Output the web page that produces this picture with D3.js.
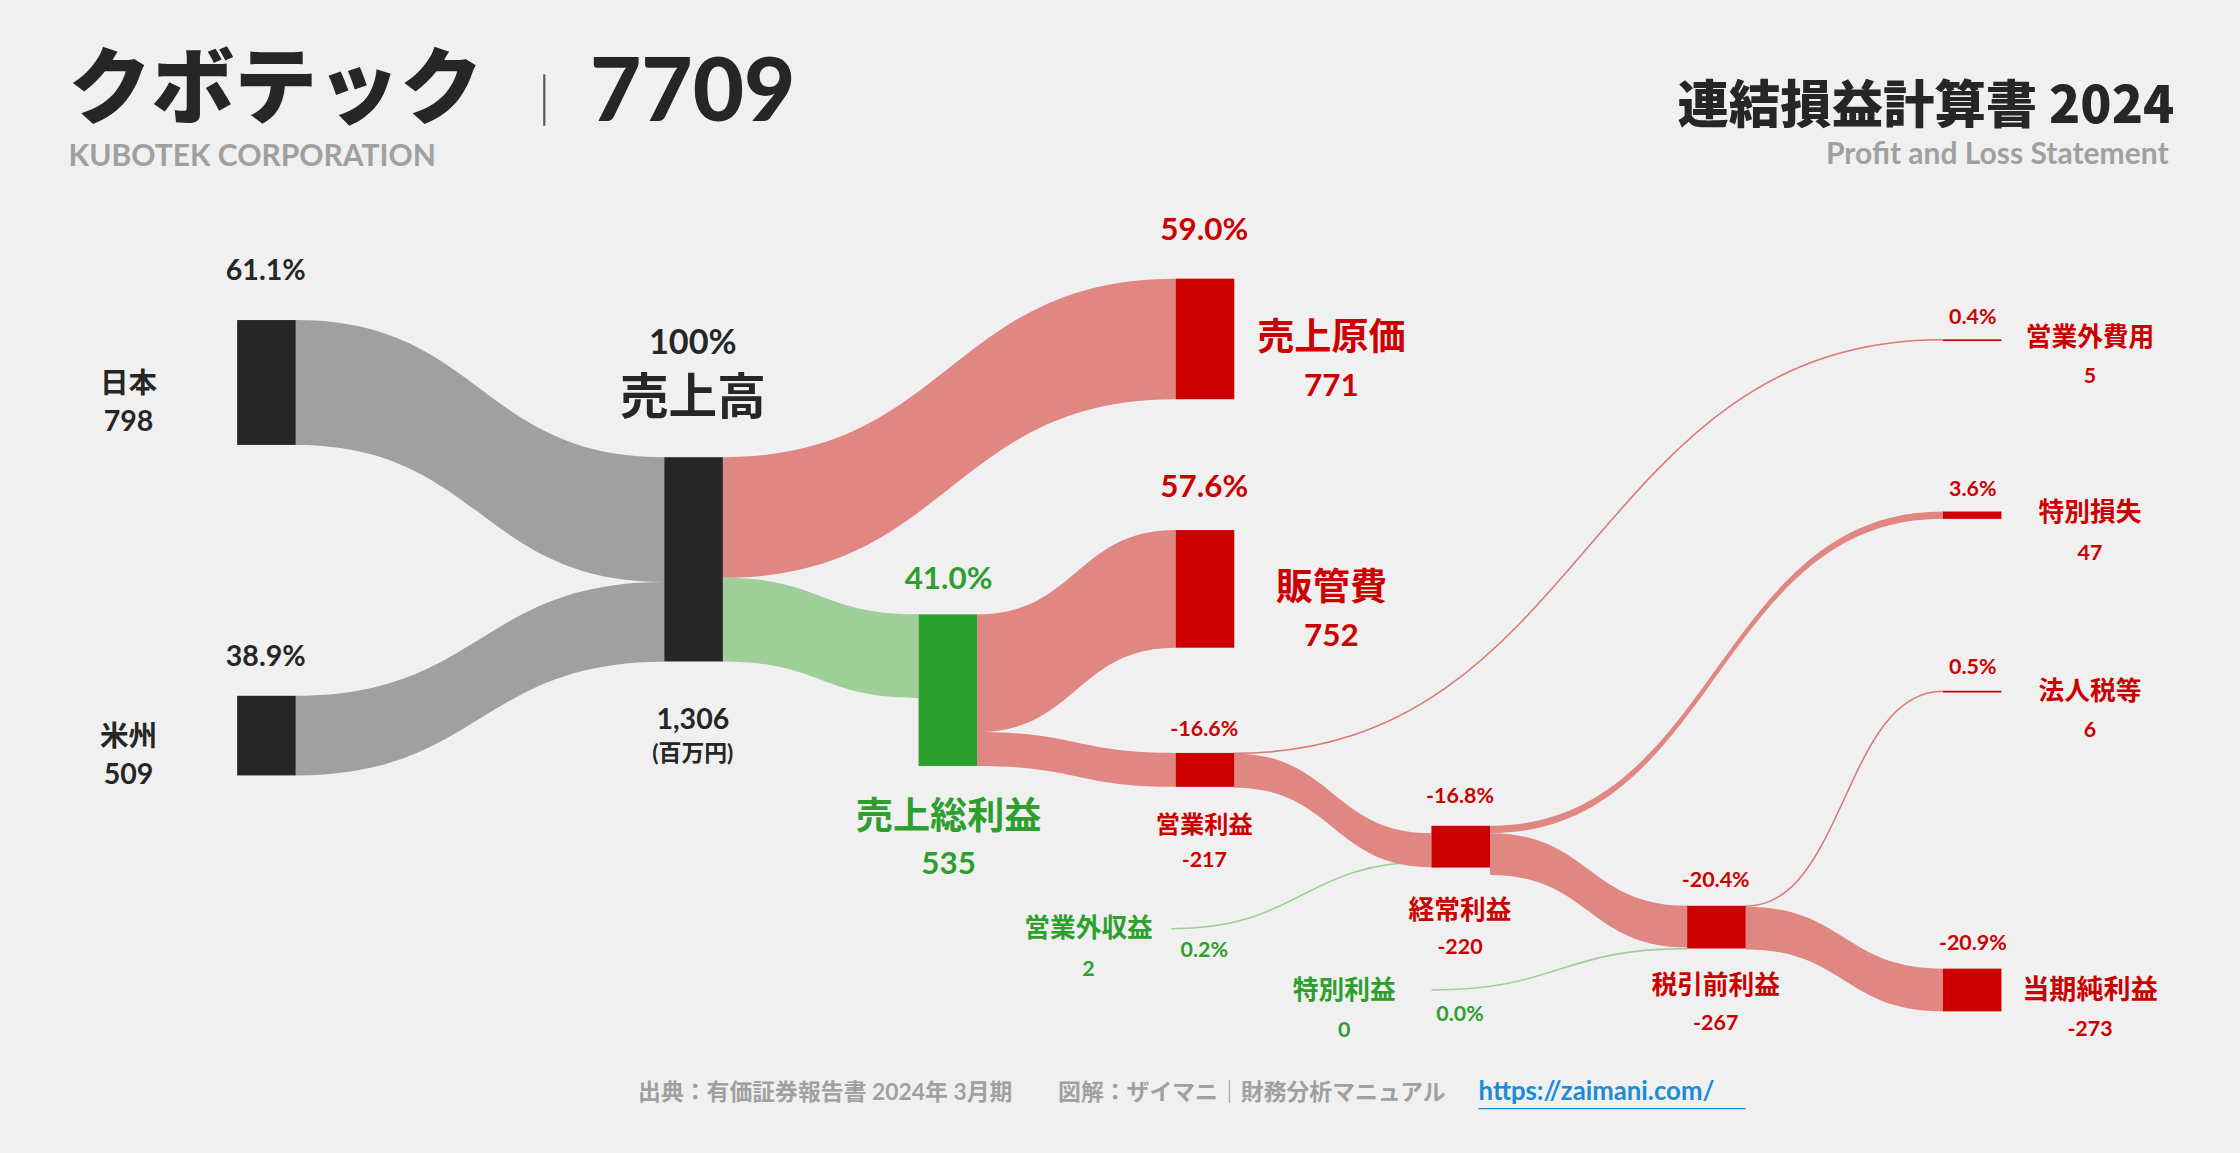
<!DOCTYPE html>
<html><head><meta charset="utf-8">
<script src="https://cdn.jsdelivr.net/npm/d3@7"></script>
<style>body{margin:0;background:#f0f0f0}svg{display:block}text{font-family:"Lato","Noto Sans CJK JP",sans-serif;font-weight:700}</style>
</head><body>
<svg id="c" width="2240" height="1153" viewBox="0 0 1568 807"></svg>
<script>
// values (百万円)
var nodeNames = ["日本","米州","売上高","売上原価","売上総利益","販管費","営業利益","営業外費用","営業外収益","経常利益","特別損失","特別利益","税引前利益","法人税等","当期純利益"];
var nodeValues = [798, 509, 1306, 771, 535, 752, -217, 5, 2, -220, 47, 0, -267, 6, -273];
var nodePct = ["61.1%","38.9%","100%","59.0%","41.0%","57.6%","-16.6%","0.4%","0.2%","-16.8%","3.6%","0.0%","-20.4%","0.5%","-20.9%"];
var nodeCol = [0,0,1,3,2,3,3,6,-1,4,6,-1,5,6,6];
var linkSrc = [0,1,2,2,4,4,6,8,6,9,9,11,12,12];
var linkTgt = [2,2,3,4,5,6,7,9,9,10,12,12,13,14];
var linkVal = [798,509,771,535,752,217,5,2,217,47,267,0,6,273];

var svg = d3.select("#c");
var k = d3.scaleLinear().domain([0,1306]).range([0,143]);
var colX = d3.scaleOrdinal().domain([0,1,2,3,4,5,6]).range([166,465,643,823,1002,1181,1360]);
var nw = 41;
// layout: top of each node (px)
var tops = [224,487,320,195,430,371,527,237.5,650,578,358,693,634,483.5,678];
var heights = [798,509,1306,771,969,752,217,5,0,267,47,0,273,6,273].map(function(v){return Math.max(k(v),1.2);});
var kind = ["d","d","d","r","g","r","r","r","g","r","r","g","r","r","r"];
var fill = {d:"#262626", r:"#cc0000", g:"#2ca02c"};
var linkFill = {d:"#a0a0a0", r:"#e08784", g:"#9fcf99"};

var outOff = nodeNames.map(function(){return 0;}), inOff = nodeNames.map(function(){return 0;});
inOff[9] = 5;
var links = linkSrc.map(function(s,i){
  var t = linkTgt[i], w = k(linkVal[i]);
  var sx = colX(nodeCol[s])+nw, tx = colX(nodeCol[t]);
  var sy = tops[s]+outOff[s], ty = tops[t]+inOff[t];
  outOff[s]+=w; inOff[t]+=w;
  return {s:s,t:t,w:w,sx:sx,tx:tx,sy:sy,ty:ty};
});
links[7].sx = 820; links[7].ty = 603;
links[11].sx = 1002; links[11].ty = 664;
function band(l){
  var w = l.w, m=(l.sx+l.tx)/2;
  if (w<=2) return "M"+l.sx+","+(l.sy+w/2)+"C"+m+","+(l.sy+w/2)+" "+m+","+(l.ty+w/2)+" "+l.tx+","+(l.ty+w/2);
  return "M"+l.sx+","+l.sy+"C"+m+","+l.sy+" "+m+","+l.ty+" "+l.tx+","+l.ty+
    "L"+l.tx+","+(l.ty+w)+"C"+m+","+(l.ty+w)+" "+m+","+(l.sy+w)+" "+l.sx+","+(l.sy+w)+"Z";
}
svg.selectAll("path.l").data(links).enter().append("path")
  .attr("d",band)
  .attr("fill",function(l){
    if(l.w<=2) return "none";
    if(l.t===2) return linkFill.d; if(l.t===4) return linkFill.g; return linkFill.r;})
  .attr("stroke",function(l){return l.w>2?"none":(kind[l.s]==="g"?linkFill.g:"#d97a77");})
  .attr("stroke-width",1.1);

svg.selectAll("rect.n").data(nodeNames).enter().append("rect")
  .attr("x",function(d,i){return colX(nodeCol[i]);}).attr("y",function(d,i){return tops[i];})
  .attr("width",nw).attr("height",function(d,i){return heights[i];})
  .attr("fill",function(d,i){return fill[kind[i]];})
  .attr("display",function(d,i){return nodeCol[i]<0?"none":null;});

function fmt(v){return d3.format(",")(v).replace("−","-");}
function T(x,y,s,size,col,anchor){
  return svg.append("text").attr("x",x).attr("y",y).attr("font-size",size).attr("fill",col)
    .attr("text-anchor",anchor||"middle").text(s);
}
var D="#262626", R="#cc0000", G="#2e9e2e";
T(186,196,nodePct[0],20,D); T(90,275,nodeNames[0],20,D); T(90,302,fmt(nodeValues[0]),20,D);
T(186,466,nodePct[1],20,D); T(90,522,nodeNames[1],20,D); T(90,549,fmt(nodeValues[1]),20,D);
T(485,248,nodePct[2],24,D); T(485,290,nodeNames[2],34,D);
T(485,510,fmt(nodeValues[2]),20,D); T(485,533,"(百万円)",16,D);
T(843,168,nodePct[3],22,R); T(932,245,nodeNames[3],26,R); T(932,277,fmt(nodeValues[3]),22,R);
T(843,348,nodePct[5],22,R); T(932,420,nodeNames[5],26,R); T(932,452,fmt(nodeValues[5]),22,R);
T(664,412,nodePct[4],22,G); T(664,580,nodeNames[4],26,G); T(664,612,fmt(nodeValues[4]),22,G);
T(843,515,nodePct[6],15,R); T(843,583,nodeNames[6],17,R); T(843,607,fmt(nodeValues[6]),15,R);
T(1022,562,nodePct[9],15,R); T(1022,643,nodeNames[9],18,R); T(1022,668,fmt(nodeValues[9]),15,R);
T(1201,621,nodePct[12],15,R); T(1201,696,nodeNames[12],18,R); T(1201,721,fmt(nodeValues[12]),15,R);
T(1381,665,nodePct[14],15,R); T(1463,699,nodeNames[14],19,R); T(1463,725,fmt(nodeValues[14]),15,R);
T(1381,227,nodePct[7],15,R); T(1463,242,nodeNames[7],18,R); T(1463,268,fmt(nodeValues[7]),15,R);
T(1381,347,nodePct[10],15,R); T(1463,365,nodeNames[10],18,R); T(1463,392,fmt(nodeValues[10]),15,R);
T(1381,472,nodePct[13],15,R); T(1463,490,nodeNames[13],18,R); T(1463,516,fmt(nodeValues[13]),15,R);
T(762,656,nodeNames[8],18,G); T(762,683,fmt(nodeValues[8]),15,G); T(843,670,nodePct[8],15,G);
T(941,699,nodeNames[11],18,G); T(941,726,fmt(nodeValues[11]),15,G); T(1022,715,nodePct[11],15,G);

// titles
T(48,82,"クボテック",58,D,"start").style("font-family","Noto Sans CJK JP").style("font-weight",900);
svg.append("line").attr("x1",381).attr("x2",381).attr("y1",52).attr("y2",88).attr("stroke","#555").attr("stroke-width",1.5);
T(413,85,"7709",62,D,"start").style("font-weight",900);
T(48,116,"KUBOTEK CORPORATION",21,"#a0a0a0","start");
T(1522,86,"連結損益計算書 2024",36,D,"end").style("font-family","Noto Sans CJK JP").style("font-weight",900);
T(1518,115,"Profit and Loss Statement",21,"#a0a0a0","end");
T(1012,770,"出典：有価証券報告書 2024年 3月期　　図解：ザイマニ｜財務分析マニュアル",16,"#a0a0a0","end");
T(1035,770,"https://zaimani.com/",18,"#1a8cd8","start");
svg.append("line").attr("x1",1035).attr("x2",1222).attr("y1",776).attr("y2",776).attr("stroke","#1a8cd8");
</script>
</body></html>
